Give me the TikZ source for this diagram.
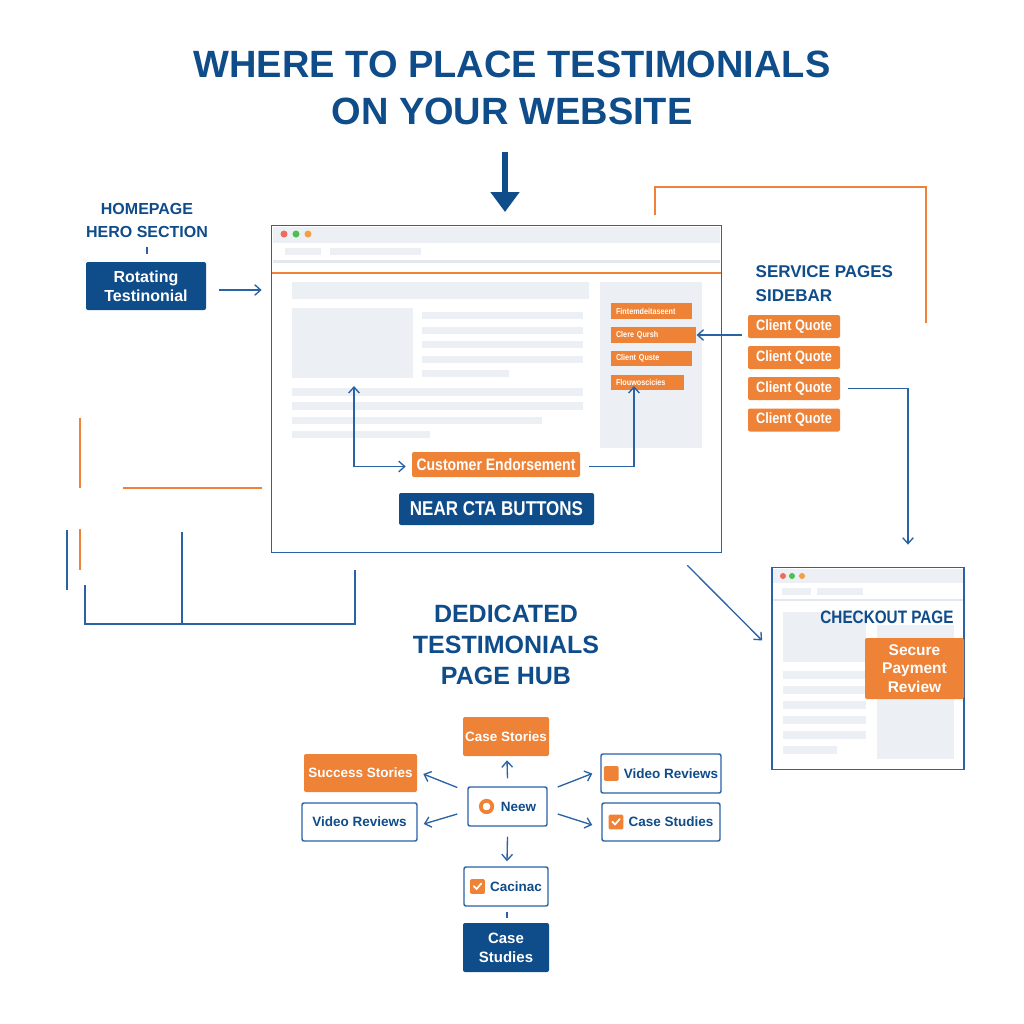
\documentclass[tikz,border=0pt]{standalone}
\usepackage{fontspec}
\setmainfont{Liberation Sans}
\newfontfamily\cond[FakeStretch=0.85]{Liberation Sans}
\usetikzlibrary{arrows.meta,calc}
\definecolor{navy}{HTML}{0F4C8A}
\definecolor{bblue}{HTML}{2A62A6}
\definecolor{org}{HTML}{EE8236}
\definecolor{lgray}{HTML}{ECEFF4}
\definecolor{lline}{HTML}{E3E7EE}
\definecolor{dred}{HTML}{F06A5A}
\definecolor{dgreen}{HTML}{4CC04C}
\definecolor{dorg}{HTML}{F5A040}
\newcommand\fpx[2]{\fontsize{\fpeval{#1*0.75}pt}{\fpeval{#2*0.75}pt}\selectfont\bfseries}
\newcommand\icsq{\tikz[x=1pt,y=1pt,baseline={([yshift=-3.6pt]current bounding box.center)}]\fill[org,rounded corners=1pt](0,0)rectangle(11,11);}
\newcommand\icck{\tikz[x=1pt,y=1pt,baseline={([yshift=-3.6pt]current bounding box.center)}]{\fill[org,rounded corners=1pt](0,0)rectangle(11,11);\draw[white,line width=1.3pt,line cap=round,line join=round,sharp corners](2.8,5.8)--(4.8,3.6)--(8.4,7.8);}}
\newcommand\icring{\tikz[x=1pt,y=1pt,baseline={([yshift=-3.6pt]current bounding box.center)}]\draw[org,line width=2.8pt](0,0)circle(4.3pt);}
\begin{document}
\begin{tikzpicture}[x=0.75pt,y=-0.75pt,
 sz/.style 2 args={minimum width=#1*0.75pt, minimum height=#2*0.75pt, inner sep=0pt},
 obox/.style={fill=org, rounded corners=1.5pt, text=white, align=center},
 bbox/.style={fill=navy, rounded corners=1.5pt, text=white, align=center},
 wbox/.style={draw=bblue, line width=1.1pt, fill=white, rounded corners=1.5pt, text=navy, align=center},
 lbl/.style={text=navy, align=center},
 ar/.style={-{Straight Barb[length=4.5pt,width=8pt]}, draw=bblue, line width=1pt},
 arr2/.style={{Straight Barb[length=4.5pt,width=8pt]}-{Straight Barb[length=4.5pt,width=8pt]}, draw=bblue, line width=1pt},
 gb/.style={fill=lgray},
 sbtn/.style={fill=org, text=white, inner xsep=4pt, inner ysep=0pt, minimum height=11.5pt, align=left, font=\cond\fpx{8.5}{10}},
 oline/.style={draw=org, line width=1.2pt},
 bline/.style={draw=bblue, line width=1.3pt},
]
\fill[white] (0,0) rectangle (1024,1024);

% title
\node[lbl, font=\fpx{38}{47}] (title) at (512,88) {WHERE TO PLACE TESTIMONIALS\\ON YOUR WEBSITE};
\coordinate (dA) at (505,152);
\coordinate (dB) at (505,212);
\draw[navy, line width=4.5pt, -{Triangle[length=15pt,width=21pt]}] (dA) -- (dB);

% decorative lines
\draw[oline] (655,215) -- (655,187) -- (926,187) -- (926,323);
\draw[oline] (80,418) -- (80,488);
\draw[oline] (123,488) -- (262,488);
\draw[oline] (80,529) -- (80,570);
\draw[bline] (67,530) -- (67,590);
\draw[bline] (85,585) -- (85,624) -- (355,624) -- (355,570);
\draw[bline] (182,532) -- (182,624);

% main window
\node[draw=bblue, line width=1.3pt, fill=white, sz={450}{327}] (win) at (496.5,389) {};
\fill[lgray] (273,227) rectangle (720,243);
\fill[dred] (284,234) circle (3.5);
\fill[dgreen] (296,234) circle (3.5);
\fill[dorg] (308,234) circle (3.5);
\fill[gb] (285,248) rectangle (321,255);
\fill[gb] (330,248) rectangle (421,255);
\fill[lline] (273,260) rectangle (720,263);
\draw[org, line width=1.2pt] (272,273) -- (721,273);
\fill[gb] (292,282) rectangle (589,299);
\fill[gb] (292,308) rectangle (413,378);
\foreach \yy in {312,327,341,356} \fill[gb] (422,\yy) rectangle (583,\yy+7);
\fill[gb] (422,370) rectangle (509,377);
\fill[gb] (292,388) rectangle (583,396);
\fill[gb] (292,402) rectangle (583,410);
\fill[gb] (292,417) rectangle (542,424);
\fill[gb] (292,431) rectangle (430,438);
\fill[gb] (600,282) rectangle (702,448);
\node[sbtn, text width=\fpeval{71*0.75}pt] (s1) at (651.5,311) {Fintemdeitaseent};
\node[sbtn, text width=\fpeval{75*0.75}pt] (s2) at (653.5,335) {Clere Qursh};
\node[sbtn, text width=\fpeval{71*0.75}pt] (s3) at (651.5,358.5) {Client Quste};
\node[sbtn, text width=\fpeval{63*0.75}pt] (s4) at (647.5,382.5) {Flouwoscicies};
\node[obox, sz={168}{25}, font=\cond\fpx{16.5}{18}] (ce) at (496,464.5) {Customer Endorsement};
\coordinate (imgp) at (354,386);
\coordinate (s4p) at (634,386);
\draw[arr2] (imgp) |- ($(ce.west)+(-6,2)$);
\draw[ar] ($(ce.east)+(9,2)$) -| (s4p);
\node[bbox, sz={195}{32}, font=\cond\fpx{20}{22}] (cta) at (496.5,509) {NEAR CTA BUTTONS};

% homepage hero
\node[lbl, font=\fpx{16}{23}] (hero) at (147,220) {HOMEPAGE\\HERO SECTION};
\node[bbox, sz={120}{48}, font=\fpx{16}{19}] (rot) at (146,286) {Rotating\\Testinonial};
\draw[bblue, line width=1pt] ($(rot.north)+(1,-15)$) -- ($(rot.north)+(1,-8)$);
\draw[ar] ($(rot.east)+(13,4)$) -- ($(win.west |- rot.east)+(-9,4)$);

% service pages sidebar
\node[lbl, anchor=west, align=left, font=\fpx{17}{24}] (svc) at (751,284) {SERVICE PAGES\\SIDEBAR};
\node[obox, sz={92}{23}, font=\cond\fpx{15}{17}] (q1) at (794,326.5) {Client Quote};
\node[obox, sz={92}{23}, font=\cond\fpx{15}{17}] (q2) at (794,357.5) {Client Quote};
\node[obox, sz={92}{23}, font=\cond\fpx{15}{17}] (q3) at (794,388.5) {Client Quote};
\node[obox, sz={92}{23}, font=\cond\fpx{15}{17}] (q4) at (794,420) {Client Quote};
\draw[ar] ($(q1.west |- s2.east)+(-6,0)$) -- (s2.east);

% checkout window
\node[draw=bblue, line width=1.3pt, fill=white, sz={192}{202}] (chk) at (868,668.5) {};
\fill[lgray] (773,568.5) rectangle (963,583);
\fill[dred] (783,576) circle (3);
\fill[dgreen] (792,576) circle (3);
\fill[dorg] (802,576) circle (3);
\fill[gb] (782,588) rectangle (811,595);
\fill[gb] (817,588) rectangle (863,595);
\fill[lline] (773,599) rectangle (963,601);
\fill[gb] (783,612) rectangle (866,662);
\fill[gb] (877,625) rectangle (954,759);
\foreach \yy in {671,686,701,716,731} \fill[gb] (783,\yy) rectangle (866,\yy+8);
\fill[gb] (783,746) rectangle (837,754);
\node[lbl, font=\cond\fpx{18}{20}] (cot) at (887,617) {CHECKOUT PAGE};
\node[obox, sz={99}{61}, font=\fpx{15.5}{18.5}] (sec) at (914.5,668.5) {Secure\\Payment\\Review};
\draw[ar] ($(q3.east)+(8,0)$) -| ($(chk.north)+(40,-22)$);
\draw[ar] ($(win.south east)+(-35,12)$) -- ($(chk.west)+(-9,-28)$);

% dedicated hub
\node[lbl, font=\fpx{25}{31}] (ded) at (506,645) {DEDICATED\\TESTIMONIALS\\PAGE HUB};
\node[wbox, sz={79}{39}, font=\fpx{13.5}{15}] (hub) at (507.5,806.5) {\icring\hspace{5pt}Neew};
\node[obox, sz={86}{39}, font=\fpx{13.5}{15}] (cs) at (506,736.5) {Case Stories};
\node[obox, sz={113}{38}, font=\fpx{13.5}{15}] (ss) at (360.5,773) {Success Stories};
\node[wbox, sz={115}{38}, font=\fpx{13.5}{15}] (vrl) at (359.5,822) {Video Reviews};
\node[wbox, sz={120}{39}, font=\fpx{13.5}{15}] (vrr) at (661,773.5) {\icsq\hspace{4pt}Video Reviews};
\node[wbox, sz={118}{38}, font=\fpx{13.5}{15}] (csr) at (661,822) {\icck\hspace{4pt}Case Studies};
\node[wbox, sz={84}{39}, font=\fpx{13.5}{15}] (cac) at (506,886.5) {\icck\hspace{4pt}Cacinac};
\node[bbox, sz={86}{49}, font=\fpx{15}{19}] (cs2) at (506,947.5) {Case\\Studies};
\draw[ar] ($(hub.north)+(0,-8)$) -- ($(cs.south)+(1,4)$);
\draw[ar] ($(hub.west)+(-10,-19)$) -- ($(ss.east)+(6,1)$);
\draw[ar] ($(hub.west)+(-10,7.5)$) -- ($(vrl.east)+(6,2)$);
\draw[ar] ($(hub.east)+(10,-19.5)$) -- ($(vrr.west)+(-8,0)$);
\draw[ar] ($(hub.east)+(10,7.5)$) -- ($(csr.west)+(-9,3)$);
\draw[ar] ($(hub.south)+(0,10)$) -- ($(cac.north)+(1,-5)$);
\draw[bblue, line width=1pt] ($(cac.south)+(1,5)$) -- ($(cs2.north)+(1,-5)$);
\end{tikzpicture}
\end{document}
